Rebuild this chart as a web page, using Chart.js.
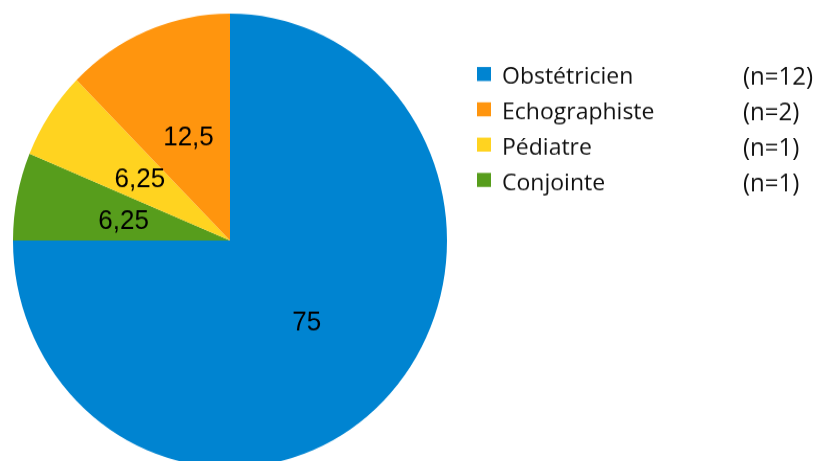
<!DOCTYPE html>
<html>
<head>
<meta charset="utf-8">
<script src="https://cdn.jsdelivr.net/npm/chart.js@4/dist/chart.umd.min.js"></script>
<style>
  html, body { margin: 0; padding: 0; background: #ffffff; }
  #wrap { width: 820px; height: 461px; position: relative; overflow: hidden; }
  #c { position: absolute; left: 0; top: 0; width: 820px !important; height: 482px !important; }
</style>
</head>
<body>
<div id="wrap"><canvas id="c" width="820" height="461" style="width:820px;height:482px;"></canvas></div>
<script>
// Legend order (as shown in the reference)
const categories = ['Obstétricien', 'Echographiste', 'Pédiatre', 'Conjointe'];
const percentages = [75, 12.5, 6.25, 6.25];
const counts = [12, 2, 1, 1];
const colors = ['#0084D1', '#FF950E', '#FFD320', '#579D1C'];

// The pie is drawn clockwise from 9 o'clock in reverse legend order
const pieLabels = categories.slice().reverse();
const pieValues = percentages.slice().reverse();
const pieColors = colors.slice().reverse();

// vertical stretch of the displayed canvas (reference pie is slightly oval)
const STRETCH = 482 / 461;

function fmt(v) { return String(v).replace('.', ','); }

const sliceLabels = {
  id: 'sliceLabels',
  afterDatasetsDraw(chart) {
    const ctx = chart.ctx;
    const meta = chart.getDatasetMeta(0);
    ctx.save();
    ctx.scale(1, 1 / STRETCH);
    ctx.font = '26px "Liberation Sans", Arial, sans-serif';
    ctx.fillStyle = '#000000';
    ctx.textAlign = 'center';
    ctx.textBaseline = 'middle';
    meta.data.forEach((arc, i) => {
      const p = arc.tooltipPosition();
      ctx.fillText(fmt(pieValues[i]), p.x, p.y * STRETCH + 3);
    });
    ctx.restore();
  }
};

const sideLegend = {
  id: 'sideLegend',
  afterDraw(chart) {
    const ctx = chart.ctx;
    ctx.save();
    ctx.scale(1, 1 / STRETCH);
    const baseY = 84, step = 35.3;
    categories.forEach((name, i) => {
      const by = baseY + i * step;
      ctx.fillStyle = colors[i];
      ctx.fillRect(477, by - 17, 14, 14);
      ctx.fillStyle = '#111111';
      ctx.font = '23px "Open Sans", sans-serif';
      ctx.textAlign = 'left';
      ctx.textBaseline = 'alphabetic';
      ctx.fillText(name, 502, by);
      ctx.font = '24px "Open Sans", sans-serif';
      ctx.fillText('(n=' + counts[i] + ')', 743, by + 1);
    });
    ctx.restore();
  }
};

new Chart(document.getElementById('c'), {
  type: 'pie',
  data: {
    labels: pieLabels,
    datasets: [{
      data: pieValues,
      backgroundColor: pieColors,
      borderWidth: 0,
      hoverOffset: 0
    }]
  },
  options: {
    responsive: false,
    animation: false,
    rotation: -90,
    layout: { padding: { left: 13, right: 373, top: 13, bottom: 14 } },
    plugins: {
      legend: { display: false },
      tooltip: { enabled: false },
      title: { display: false }
    }
  },
  plugins: [sliceLabels, sideLegend]
});
</script>
</body>
</html>
